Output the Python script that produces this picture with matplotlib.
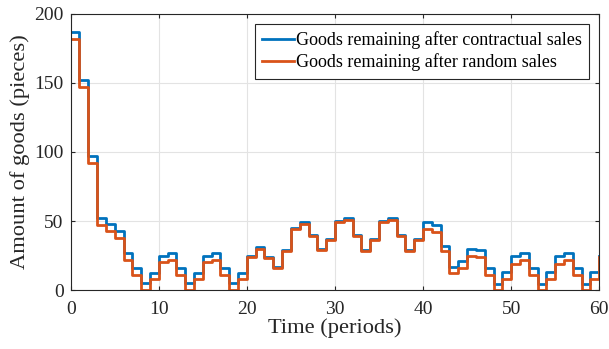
import numpy as np
import matplotlib
matplotlib.use('Agg')
import matplotlib.pyplot as plt

plt.rcParams['font.family'] = ['Liberation Serif', 'DejaVu Serif']
plt.rcParams['mathtext.fontset'] = 'stix'

# Periodos e estoque restante
periods = list(range(61))
contractual = [187, 152, 97, 52, 48, 43, 27, 16, 5, 12,
               25, 27, 16, 5, 12, 25, 27, 16, 5, 12,
               25, 31, 24, 17, 29, 45, 49, 40, 30, 37,
               50, 52, 40, 29, 37, 50, 52, 40, 29, 37,
               49, 47, 32, 17, 21, 30, 29, 16, 4, 13,
               25, 27, 16, 4, 13, 25, 27, 16, 4, 13,
               25]
random_sales = [182, 147, 92, 47, 43, 38, 22, 11, 0, 8,
                20, 22, 11, 0, 8, 20, 22, 11, 0, 8,
                24, 30, 23, 16, 28, 44, 48, 39, 29, 36,
                49, 51, 39, 28, 36, 49, 51, 39, 28, 36,
                44, 42, 28, 12, 16, 25, 24, 11, 0, 8,
                19, 22, 11, 0, 8, 19, 22, 11, 0, 8,
                24]

fig = plt.figure(figsize=(6.09, 3.49), dpi=100)
ax = fig.add_axes([0.116, 0.169, 0.868, 0.791])

ax.step(periods, contractual, where='post', color='#0072BD', lw=2,
        label='Goods remaining after contractual sales')
ax.step(periods, random_sales, where='post', color='#D95319', lw=2,
        label='Goods remaining after random sales')

ax.set_xlim(0, 60)
ax.set_ylim(0, 200)
ax.set_xticks([0, 10, 20, 30, 40, 50, 60])
ax.set_yticks([0, 50, 100, 150, 200])
ax.grid(True, color='#e3e3e3', lw=0.8)
ax.set_axisbelow(True)
ax.tick_params(direction='in', top=True, right=True, labelsize=14,
               colors='#262626', length=3)
ax.tick_params(axis='x', pad=8)
ax.tick_params(axis='y', pad=5)
for s in ax.spines.values():
    s.set_color('#262626')
    s.set_linewidth(0.8)

ax.set_xlabel('Time (periods)', fontsize=16.2, color='#262626', labelpad=0)
ax.set_ylabel('Amount of goods (pieces)', fontsize=16.2, color='#262626', labelpad=3)

leg = ax.legend(loc='upper right', fontsize=13, fancybox=False, framealpha=1,
                edgecolor='#262626', handlelength=1.8, handletextpad=0.1,
                borderpad=0.4, labelspacing=0.25, borderaxespad=0.55)
leg.get_frame().set_linewidth(0.8)

fig.savefig('out.png', dpi=100)
